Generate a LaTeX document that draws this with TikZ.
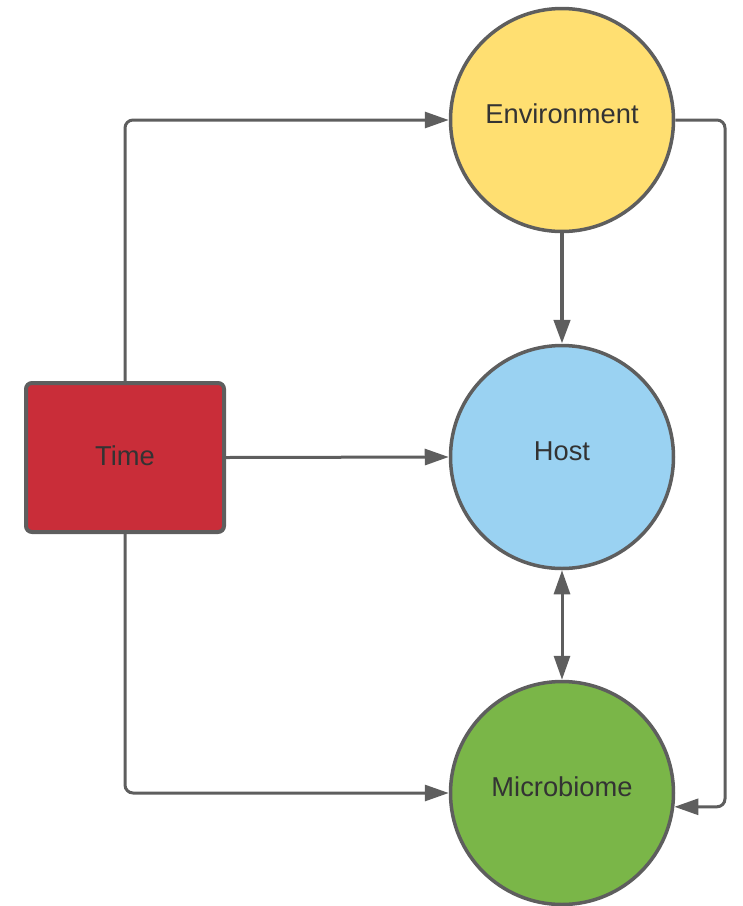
\documentclass[tikz,border=0pt]{standalone}
\usepackage{fontspec}
\setmainfont{Liberation Sans}
\usetikzlibrary{arrows.meta,calc}
\definecolor{edgegray}{HTML}{5E5E5E}
\definecolor{txtgray}{HTML}{333333}
\definecolor{envfill}{HTML}{FFDF71}
\definecolor{hostfill}{HTML}{9AD2F2}
\definecolor{micfill}{HTML}{7AB648}
\definecolor{timefill}{HTML}{C92D39}
\tikzset{
  bigcircle/.style={circle, draw=edgegray, line width=3.5pt, minimum size=223pt, inner sep=0pt,
    text=txtgray, font=\fontsize{27.3}{30}\selectfont, text height=19.5pt, text depth=12pt},
  timebox/.style={rectangle, rounded corners=6pt, draw=edgegray, line width=4pt, fill=timefill,
    minimum width=198pt, minimum height=149pt, inner sep=0pt,
    text=txtgray, font=\fontsize{27.3}{30}\selectfont, text height=19.5pt, text depth=4pt},
  conn/.style={draw=edgegray, line width=3pt, rounded corners=8pt,
    -{Triangle[length=24pt,width=16pt]}},
  thickconn/.style={conn, line width=4.5pt},
  dconn/.style={draw=edgegray, line width=3pt,
    {Triangle[length=24pt,width=16pt]}-{Triangle[length=24pt,width=16pt]}}
}
\begin{document}
\begin{tikzpicture}[x=1pt,y=-1pt]
\useasboundingbox (0,0) rectangle (743,906);
\node[bigcircle, fill=envfill] (E) at (562,120) {Environment};
\node[bigcircle, fill=hostfill] (H) at (562,457) {Host};
\node[bigcircle, fill=micfill] (M) at (562,793) {Microbiome};
\node[timebox] (T) at (125,457.5) {Time};
\coordinate (rc) at (725,0);
\draw[conn] (T.north) |- (E.west);
\draw[conn] (T.east) -- (H.west);
\draw[conn] (T.south) |- (M.west);
\draw[thickconn] (E.south) -- (H.north);
\draw[dconn] (H.south) -- (M.north);
\draw[conn] (E.east) -- (E.east -| rc) -- (rc |- M.-7) -- (M.-7);
\end{tikzpicture}
\end{document}
